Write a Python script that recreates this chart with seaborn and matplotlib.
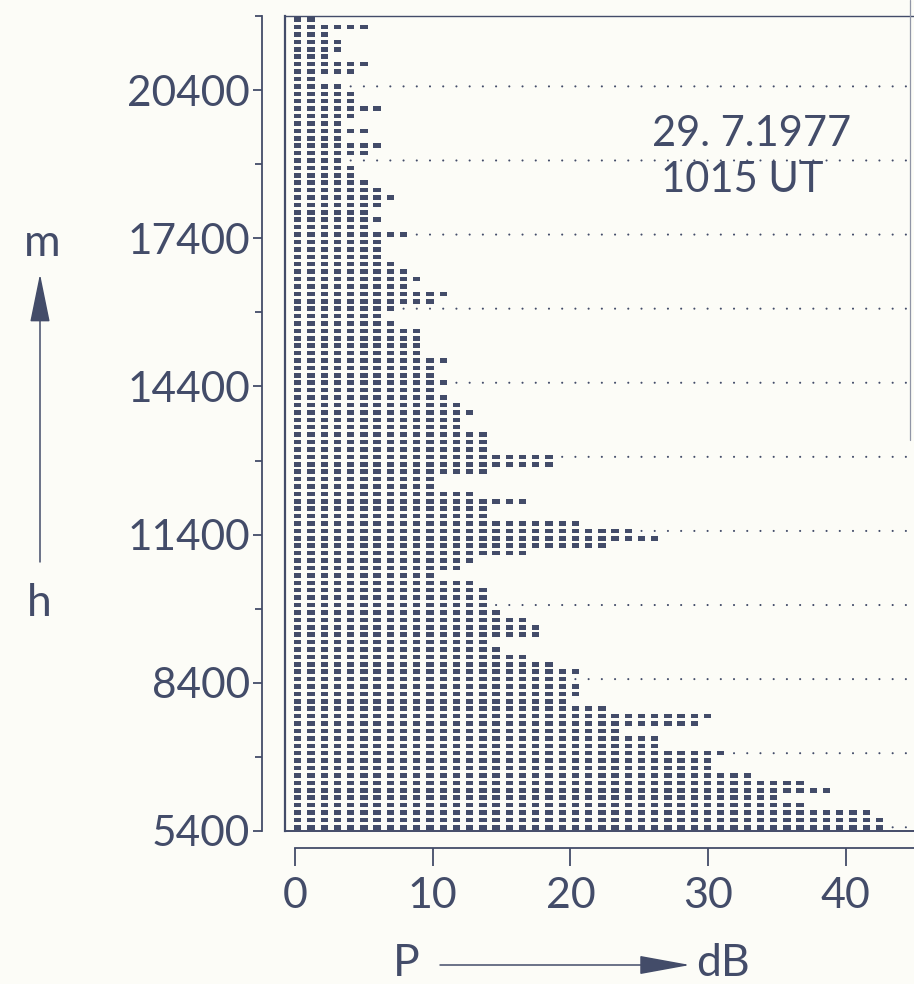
import numpy as np
import pandas as pd
import matplotlib
matplotlib.use("Agg")
import matplotlib.pyplot as plt
from matplotlib.lines import Line2D
from matplotlib.patches import FancyArrowPatch
from matplotlib.ticker import FixedLocator
import seaborn as sns

# --- data -------------------------------------------------------------------
# one printer row per 150 m layer, starting at 5400 m; value = dots printed
base_height = 5400
row_step = 150
dots_per_row = [
    45, 45, 44, 39, 37, 41, 39, 35, 32, 32,   # 5400 .. 6750
    33, 28, 28, 25, 31, 32, 24, 21, 22, 22,   # 6900 ..
    21, 22, 20, 18, 16, 15, 19, 19, 18, 16,   # 8400 ..
    15, 15, 15, 14, 11, 13, 14, 18, 24, 28,   # 9900 ..
    26, 22, 15, 15, 18, 14, 11, 11, 15, 20,   # 11400 ..
    20, 15, 15, 15, 13, 13, 14, 13, 12, 11,   # 12900 ..
    12, 11, 11, 12, 10, 10, 10, 10, 8, 7,     # 14400 ..
    8, 11, 12, 9, 10, 9, 8, 7, 7, 7,          # 15900 ..
    9, 6, 7, 6, 7, 8, 7, 6, 5, 5,             # 17400 ..
    4, 6, 7, 4, 6, 4, 5, 7, 5, 5,             # 18900 ..
    4, 2, 5, 6, 3, 4, 4, 3, 6, 2,             # 20400 .. 21750
]
dot_step = 0.96      # dB per printed dot
dot_start = 0.2      # dB of first dot column
ref_every = 1500     # dotted reference rows every 1500 m

y_major = [5400, 8400, 11400, 14400, 17400, 20400]
y_minor = [6900, 9900, 12900, 15900, 18900, 21900]
x_ticks = [0, 10, 20, 30, 40]
date_text = "29. 7.1977"
time_text = "1015 UT"

# --- build long-form tables --------------------------------------------------
heights = base_height + row_step * np.arange(len(dots_per_row))
rows = []
ref_rows = []
x_max = 44.95
for h, n in zip(heights, dots_per_row):
    yc = h + row_step / 2
    for j in range(n):
        rows.append({"P": dot_start + j * dot_step, "h": yc})
    if (h - base_height) % ref_every == 0:
        x = dot_start + n * dot_step
        while x < x_max:
            ref_rows.append({"P": x, "h": yc})
            x += dot_step
df = pd.DataFrame(rows)
ref = pd.DataFrame(ref_rows)

# --- style -------------------------------------------------------------------
ink = "#434c69"
paper = "#fcfcf7"
sns.set_theme(style="white", rc={"figure.facecolor": paper, "axes.facecolor": paper})
plt.rcParams["font.family"] = ["Lato", "DejaVu Sans"]

W, H = 914, 984
fig = plt.figure(figsize=(W / 100, H / 100), dpi=100)


def fx(px):
    return px / W


def fy(py):
    return 1 - py / H


ax = fig.add_axes([fx(285), fy(831), fx(914 - 285), (831 - 16) / H])
ax.set_xlim(-0.73, x_max)
ax.set_ylim(5400, 21900)

rect = [(-1, -0.62), (1, -0.62), (1, 0.62), (-1, 0.62)]
sns.scatterplot(data=df, x="P", y="h", marker=rect, s=28, color=ink,
                edgecolor="none", linewidth=0, legend=False, ax=ax)
sns.scatterplot(data=ref, x="P", y="h", marker="o", s=2.2, color=ink,
                edgecolor="none", linewidth=0, legend=False, ax=ax)

ax.set_xlabel("")
ax.set_ylabel("")
ax.tick_params(left=False, labelleft=False, bottom=False, labelbottom=False)
for side in ["left", "bottom", "top"]:
    ax.spines[side].set_color(ink)
ax.spines["left"].set_linewidth(1.6)
ax.spines["bottom"].set_linewidth(1.4)
ax.spines["top"].set_linewidth(1.0)
ax.spines["right"].set_visible(False)

# separate height axis to the left
sy = ax.secondary_yaxis(-23 / 629)
sy.set_yticks(y_major)
sy.set_yticklabels([str(v) for v in y_major])
sy.yaxis.set_minor_locator(FixedLocator(y_minor))
sy.spines["left"].set_color(ink)
sy.spines["left"].set_linewidth(1.3)
sy.tick_params(which="major", length=6.5, width=1.3, color=ink, pad=2,
               labelsize=30.5, labelcolor=ink)
sy.tick_params(which="minor", length=5, width=1.3, color=ink)

# separate power axis below
sx = ax.secondary_xaxis(-17 / 815)
sx.set_xticks(x_ticks)
sx.set_xticklabels([str(v) for v in x_ticks])
sx.spines["bottom"].set_color(ink)
sx.spines["bottom"].set_linewidth(1.3)
sx.spines["bottom"].set_bounds(0, x_max)
sx.tick_params(length=13, width=1.3, color=ink, pad=8, labelsize=31,
               labelcolor=ink)

# date / time stamp
fig.text(fx(752), fy(134), date_text, ha="center", va="center", fontsize=30,
         color=ink)
fig.text(fx(742), fy(180), time_text, ha="center", va="center", fontsize=30,
         color=ink)

# axis names with arrows
fig.text(fx(42), fy(244), "m", ha="center", va="center", fontsize=32, color=ink)
fig.text(fx(39), fy(604), "h", ha="center", va="center", fontsize=32, color=ink)
fig.text(fx(406), fy(964), "P", ha="center", va="center", fontsize=32, color=ink)
fig.text(fx(723), fy(964), "dB", ha="center", va="center", fontsize=32, color=ink)

up = FancyArrowPatch((fx(40), fy(562)), (fx(40), fy(274)),
                     transform=fig.transFigure,
                     arrowstyle="-|>,head_length=2.2,head_width=0.45",
                     mutation_scale=14, color=ink, lw=1.1,
                     shrinkA=0, shrinkB=0)
right = FancyArrowPatch((fx(440), fy(965)), (fx(690), fy(965)),
                        transform=fig.transFigure,
                        arrowstyle="-|>,head_length=2.3,head_width=0.42",
                        mutation_scale=14, color=ink, lw=1.1,
                        shrinkA=0, shrinkB=0)
fig.add_artist(up)
fig.add_artist(right)

# page edge visible on the scan
fig.add_artist(Line2D([fx(910), fx(910)], [fy(0), fy(440)],
                      transform=fig.transFigure, color="#9095a6", lw=0.9))

fig.savefig("out.png", dpi=100, facecolor=paper)
